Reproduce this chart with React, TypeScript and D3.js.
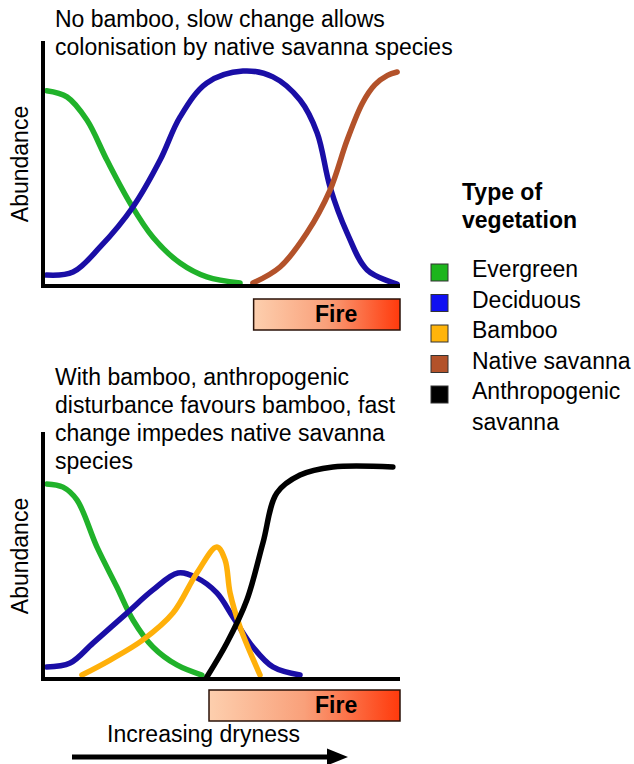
import React from 'react'
import * as d3 from 'd3'

// x: position along the dryness gradient (0-100), y: abundance (0-100)
const evergreenTop = [[1, 80], [6.7, 77.5], [12.3, 68], [17.9, 51.6], [24.4, 34], [30.8, 20], [38.4, 9.4], [45.9, 3.7], [55.2, 1.2]]
const deciduousTop = [[1, 4.5], [8.4, 5.7], [16, 16], [25.2, 32.4], [32.8, 51.6], [38.4, 69.3], [45.9, 83.2], [56, 88.1], [64.4, 85.7], [72, 76.2], [76.8, 62.7], [80.4, 40.6], [85.2, 21.7], [90.8, 6.6], [99.2, 0.8]]
const nativeTop = [[58.8, 1.2], [66.4, 7.8], [73.9, 21.7], [80.4, 39.3], [85.2, 59.8], [89.5, 75], [93, 82.5], [96.5, 86.3], [99.2, 87.7]]

const evergreenBottom = [[1, 79.3], [5.6, 78], [9.5, 72.8], [15.1, 53.7], [20.7, 37.4], [25.2, 24], [30.8, 13], [37.5, 5.7], [44.5, 1.6]]
const deciduousBottom = [[1, 4.9], [7.6, 6.5], [14, 14.6], [23.5, 26.8], [30.8, 36.2], [37.8, 43.1], [43.1, 41.1], [48.7, 35], [53.2, 25.2], [58.8, 13], [64.4, 4.9], [72, 1.6]]
const bambooBottom = [[10.9, 1.6], [18.8, 7.7], [28, 15.9], [36.4, 26.8], [43.1, 43.1], [48.7, 53.7], [51, 48.4], [52.4, 35], [55.2, 21.1], [60.8, 1.6]]
const anthroBottom = [[45.9, 0.8], [51.5, 14.6], [57.1, 32.1], [61.6, 55.3], [65.5, 75.6], [72, 82.9], [81.2, 86.2], [98, 86.2]]

// fire bar starts where it starts in each panel
const fireStart = [59, 46.5]

const topTitle = ['No bamboo, slow change allows', 'colonisation by native savanna species']
const bottomTitle = ['With bamboo, anthropogenic', 'disturbance favours bamboo, fast', 'change impedes native savanna', 'species']

const legendNames = ['Evergreen', 'Deciduous', 'Bamboo', 'Native savanna', 'Anthropogenic']
const legendColors = ['#1db51d', '#1010f2', '#ffb40a', '#b3522a', '#000000']

const lineColors = {
  evergreen: '#20b22a',
  deciduous: '#1a0ea6',
  bamboo: '#ffb00a',
  native: '#b3522a',
  anthro: '#000000'
}

const font = '"Liberation Sans", Arial, Helvetica, sans-serif'
const fs = 23

const x = d3.scaleLinear().domain([0, 100]).range([43, 400])

function Panel ({ base, top, series, fire, fireY, title, titleY }) {
  const y = d3.scaleLinear().domain([0, 100]).range([base, top])
  const line = d3.line()
    .x(d => x(d[0]))
    .y(d => y(d[1]))
    .curve(d3.curveCatmullRom.alpha(0.5))

  return (
    <g>
      {title.map((t, i) => (
        <text key={i} x={55} y={titleY + i * 28} fontSize={fs}>{t}</text>
      ))}
      <text
        transform={`translate(28, ${(base + top) / 2}) rotate(-90)`}
        textAnchor='middle'
        fontSize={fs}
      >Abundance</text>
      {series.map((s, i) => (
        <path
          key={i}
          d={line(s.data)}
          fill='none'
          stroke={s.color}
          strokeWidth={5.5}
          strokeLinecap='round'
        />
      ))}
      <line x1={x(0)} x2={x(0)} y1={top - 1} y2={base + 2} stroke='#000' strokeWidth={4} />
      <line x1={x(0) - 2} x2={x(100)} y1={base} y2={base} stroke='#000' strokeWidth={4} />
      <rect
        x={x(fire)}
        y={fireY}
        width={x(100) - x(fire)}
        height={31}
        fill='url(#fireGrad)'
        stroke='#2a1208'
        strokeWidth={1.5}
      />
      <text x={315} y={fireY + 23} fontSize={fs} fontWeight='bold'>Fire</text>
    </g>
  )
}

export default function App () {
  return (
    <svg
      width={634}
      height={764}
      style={{ position: 'absolute', left: 0, top: 0, background: '#fff' }}
      fontFamily={font}
    >
      <defs>
        <linearGradient id='fireGrad' x1='0' x2='1' y1='0' y2='0'>
          <stop offset='0%' stopColor='#fdcfae' />
          <stop offset='50%' stopColor='#f9a07a' />
          <stop offset='100%' stopColor='#ff3a0c' />
        </linearGradient>
      </defs>

      <Panel
        base={286}
        top={42}
        fire={fireStart[0]}
        fireY={299}
        title={topTitle}
        titleY={27}
        series={[
          { data: evergreenTop, color: lineColors.evergreen },
          { data: deciduousTop, color: lineColors.deciduous },
          { data: nativeTop, color: lineColors.native }
        ]}
      />
      <Panel
        base={679}
        top={433}
        fire={fireStart[1]}
        fireY={690}
        title={bottomTitle}
        titleY={385}
        series={[
          { data: evergreenBottom, color: lineColors.evergreen },
          { data: deciduousBottom, color: lineColors.deciduous },
          { data: bambooBottom, color: lineColors.bamboo },
          { data: anthroBottom, color: lineColors.anthro }
        ]}
      />

      {/* legend */}
      <text x={462} y={200} fontSize={fs} fontWeight='bold'>Type of</text>
      <text x={462} y={228} fontSize={fs} fontWeight='bold'>vegetation</text>
      {legendNames.map((n, i) => (
        <g key={n} transform={`translate(0, ${261 + i * 30.5})`}>
          <rect x={431} y={3} width={17} height={17} fill={legendColors[i]} stroke='#333' strokeWidth={1} />
          <text x={472} y={16} fontSize={fs}>{n}</text>
        </g>
      ))}
      <text x={472} y={430} fontSize={fs}>savanna</text>

      {/* dryness arrow */}
      <text x={107} y={742} fontSize={fs}>Increasing dryness</text>
      <line x1={72} x2={330} y1={757} y2={757} stroke='#000' strokeWidth={5} />
      <path d='M327,748.5 L348,757 L327,765.5 Z' fill='#000' />
    </svg>
  )
}
